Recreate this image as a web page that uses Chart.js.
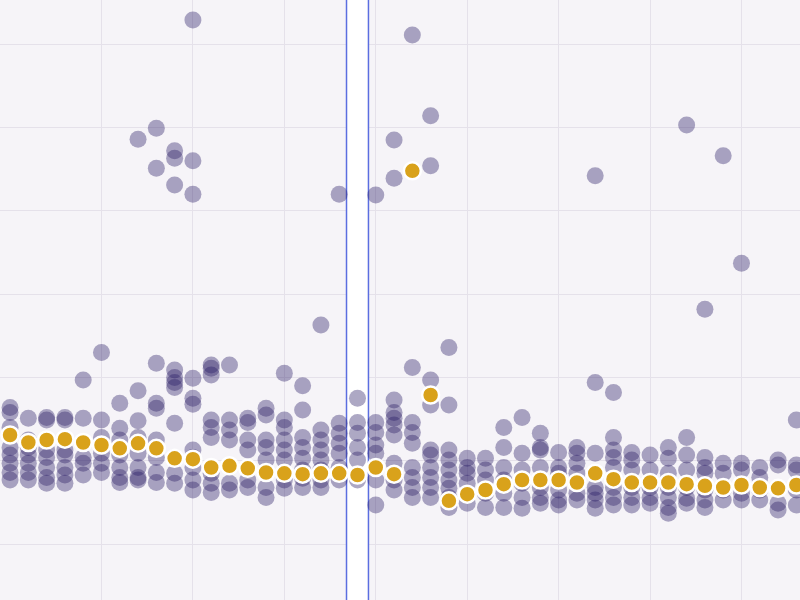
<!DOCTYPE html>
<html lang="en">
<meta charset="UTF-8">
<head>
	<title>Strip chart</title>
	<script src="https://cdn.jsdelivr.net/npm/chart.js@4"></script>
	<style>
		html, body { margin: 0; padding: 0; background: #f6f4f8; }
		.wrapper { width: 800px; height: 600px; }
	</style>
</head>
<body>
	<div class="wrapper"><canvas id="myChart"></canvas></div>
	<script>
		// one column per group, median shown in yellow
		var medians = [13.1, 12.2, 12.5, 12.6, 12.2, 11.9, 11.5, 12.1, 11.5, 10.3, 10.2, 9.2, 9.4, 9.1, 8.6, 8.5, 8.4, 8.5, 8.5, 8.3, 9.2, 8.4,
			44.8, 17.9, 5.2, 6.0, 6.5, 7.2, 7.7, 7.7, 7.7, 7.4, 8.5, 7.8, 7.4, 7.4, 7.4, 7.2, 7.0, 6.8, 7.1, 6.8, 6.7, 7.1];
		var observations = [
			[16.4, 15.8, 14.0, 11.6, 10.7, 9.7, 8.6, 7.7],
			[15.1, 12.5, 11.6, 10.7, 9.7, 8.6, 7.7],
			[15.2, 14.9, 11.3, 10.4, 9.2, 8.0, 7.3],
			[15.2, 14.9, 11.3, 10.7, 9.2, 8.3, 7.3],
			[19.7, 15.1, 10.4, 9.7, 8.3],
			[23.0, 14.9, 12.8, 10.9, 9.7, 8.6],
			[16.9, 13.9, 12.5, 10.7, 9.2, 8.0, 7.4],
			[48.6, 18.4, 14.8, 12.8, 10.9, 9.2, 8.0, 7.7],
			[49.9, 45.1, 21.7, 16.9, 16.3, 12.5, 10.4, 8.6, 7.4],
			[47.2, 46.3, 43.1, 20.9, 20.0, 19.4, 18.8, 14.5, 10.4, 8.5, 7.3],
			[62.9, 46.0, 42.0, 19.9, 17.5, 16.8, 11.3, 10.4, 9.2, 7.7, 6.5],
			[21.5, 21.1, 20.3, 14.9, 14.0, 12.8, 8.5, 7.3, 6.2],
			[21.5, 14.9, 13.7, 12.5, 7.3, 6.5],
			[15.1, 14.6, 12.5, 11.3, 7.7, 6.8],
			[16.3, 15.5, 12.5, 11.6, 10.1, 8.5, 6.8, 5.6],
			[20.5, 14.9, 14.0, 12.5, 11.3, 10.1, 7.7, 6.7],
			[19.0, 16.1, 12.8, 11.6, 10.3, 8.9, 7.9, 6.8],
			[26.3, 13.7, 12.5, 11.3, 10.1, 8.9, 7.7, 6.8],
			[42.0, 14.5, 13.3, 12.1, 10.9, 9.2, 7.7],
			[17.5, 14.6, 13.3, 11.6, 10.1, 7.7],
			[41.9, 14.6, 13.4, 11.9, 10.9, 7.7, 4.7],
			[48.5, 43.9, 17.3, 15.8, 15.1, 14.3, 13.1, 9.7, 7.7, 6.5],
			[61.1, 21.2, 14.6, 13.4, 12.1, 9.2, 8.0, 6.8, 5.6],
			[51.4, 45.4, 19.7, 16.7, 11.3, 10.7, 9.2, 8.0, 6.8, 5.6],
			[23.6, 16.7, 11.3, 10.1, 8.9, 7.7, 6.7, 5.6, 4.4],
			[10.3, 9.2, 8.5, 7.3, 6.1, 4.9],
			[10.3, 8.9, 7.7, 6.1, 4.4],
			[14.0, 11.6, 9.2, 7.7, 6.1, 4.4],
			[15.2, 10.9, 8.9, 7.3, 5.6, 4.3],
			[13.3, 11.6, 11.3, 9.2, 6.8, 5.6, 4.9],
			[11.0, 9.2, 8.5, 6.5, 5.3, 4.7],
			[11.6, 10.9, 9.7, 8.5, 6.1, 5.3],
			[44.2, 19.4, 10.9, 6.8, 6.1, 5.3, 4.3],
			[18.2, 12.8, 11.3, 10.4, 9.2, 6.8, 5.6, 4.7],
			[11.0, 10.1, 8.9, 6.8, 5.6, 4.7],
			[10.7, 8.9, 6.8, 5.6, 4.9],
			[11.6, 10.3, 8.5, 6.8, 5.6, 4.4, 3.7],
			[50.3, 12.8, 10.7, 8.9, 6.8, 5.5, 4.9],
			[28.2, 10.4, 9.2, 8.5, 6.5, 5.3, 4.4],
			[46.6, 9.7, 8.5, 6.5, 5.3],
			[33.7, 9.7, 8.9, 6.1, 5.3],
			[9.2, 8.0, 6.5, 5.3],
			[10.1, 9.5, 4.9, 4.1],
			[14.9, 9.5, 8.9, 6.5, 4.7]
		];
		var highlightColumn = 19; // the column drawn inside the white band

		var obsPoints = [];
		for (var i = 0; i < observations.length; i++) {
			for (var j = 0; j < observations[i].length; j++) {
				obsPoints.push({ x: i, y: observations[i][j] });
			}
		}
		var medPoints = medians.map(function (v, i) { return { x: i, y: v }; });

		// white band with blue edges behind the highlighted column
		var bandPlugin = {
			id: 'band',
			beforeDatasetsDraw: function (chart) {
				var ctx = chart.ctx, xs = chart.scales.x, area = chart.chartArea;
				var l = xs.getPixelForValue(highlightColumn - 0.6);
				var r = xs.getPixelForValue(highlightColumn + 0.6);
				ctx.save();
				ctx.fillStyle = '#ffffff';
				ctx.fillRect(l, area.top, r - l, area.bottom - area.top);
				ctx.strokeStyle = '#5b6ee0';
				ctx.lineWidth = 1.5;
				ctx.beginPath();
				ctx.moveTo(l, area.top); ctx.lineTo(l, area.bottom);
				ctx.moveTo(r, area.top); ctx.lineTo(r, area.bottom);
				ctx.stroke();
				ctx.restore();
			}
		};

		function keepMultiples(step) {
			return function (axis) {
				axis.ticks = axis.ticks.filter(function (t) {
					return Math.abs(t.value / step - Math.round(t.value / step)) < 1e-6;
				});
			};
		}

		var ctx = document.getElementById('myChart').getContext('2d');
		var chart = new Chart(ctx, {
			type: 'scatter',
			data: {
				datasets: [
					{
						label: 'Median',
						data: medPoints,
						backgroundColor: '#d9a21b',
						borderColor: '#ffffff',
						borderWidth: 2.5,
						pointRadius: 8.5,
						pointHoverRadius: 8.5
					},
					{
						label: 'Observations',
						data: obsPoints,
						backgroundColor: 'rgba(40, 25, 100, 0.38)',
						borderWidth: 0,
						pointRadius: 8.5,
						pointHoverRadius: 8.5
					}
				]
			},
			options: {
				responsive: true,
				maintainAspectRatio: false,
				animation: false,
				layout: { padding: 0, autoPadding: false },
				plugins: { legend: { display: false }, tooltip: { enabled: false } },
				scales: {
					x: {
						type: 'linear', min: -0.55, max: 43.2,
						ticks: { display: false, stepSize: 5 },
						afterBuildTicks: keepMultiples(5),
						grid: { color: '#e5e1ea', drawTicks: false },
						border: { display: false }
					},
					y: {
						type: 'linear', min: -6.7, max: 65.3,
						ticks: { display: false, stepSize: 10 },
						afterBuildTicks: keepMultiples(10),
						grid: { color: '#e5e1ea', drawTicks: false },
						border: { display: false }
					}
				}
			},
			plugins: [bandPlugin]
		});
	</script>
</body>
</html>
